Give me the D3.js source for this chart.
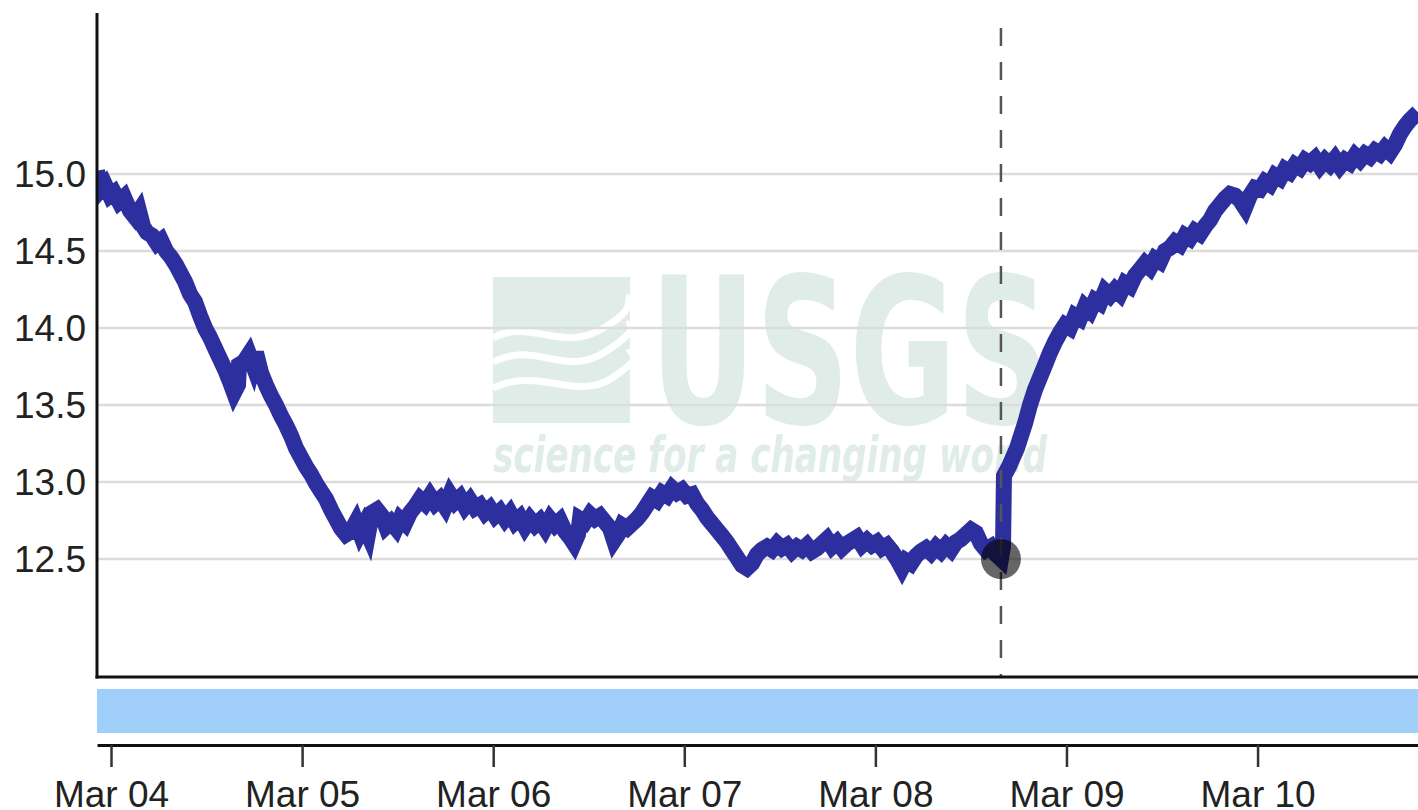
<!DOCTYPE html>
<html>
<head>
<meta charset="utf-8">
<script src="https://cdn.jsdelivr.net/npm/d3@7"></script>
<style>
  body { margin: 0; background: #fff; }
  svg { display: block; font-family: "Liberation Sans", Arial, Helvetica, sans-serif; }
</style>
</head>
<body>
<svg id="chart"></svg>
<script>
// hours after Mar 04 00:00 and gage height (ft)
const hours = [-1.76,-1.26,-0.75,-0.13,0.38,1.00,1.63,2.39,3.01,3.52,4.02,4.52,5.15,5.78,6.28,6.91,7.54,8.16,8.67,9.29,
  9.92,10.55,11.18,11.81,12.43,13.06,13.69,14.32,14.95,15.45,15.95,16.08,16.70,17.33,17.83,18.21,18.84,19.47,20.09,20.72,
  21.35,21.98,22.61,23.23,23.86,24.49,25.12,25.75,26.37,27.00,27.63,28.26,28.89,29.51,30.14,30.77,31.27,31.77,32.28,32.78,
  33.41,34.03,34.54,35.16,35.79,36.30,36.92,37.55,38.18,38.81,39.44,40.06,40.69,41.32,41.95,42.58,43.20,43.83,44.46,45.09,
  45.71,46.34,46.97,47.60,48.23,48.85,49.48,50.11,50.74,51.37,51.99,52.62,53.25,53.88,54.51,55.13,55.76,56.39,57.02,57.64,
  58.15,58.65,58.90,59.53,60.16,60.79,61.41,62.04,62.67,63.17,63.68,64.18,64.81,65.43,66.06,66.69,67.32,67.95,68.57,69.20,
  69.83,70.46,71.08,71.71,72.34,72.97,73.60,74.22,74.85,75.48,76.11,76.74,77.36,77.99,78.62,79.25,79.87,80.50,81.13,81.76,
  82.39,83.01,83.64,84.27,84.90,85.53,86.15,86.78,87.41,88.04,88.66,89.29,89.92,90.55,91.18,91.80,92.43,93.06,93.69,94.32,
  94.94,95.57,96.20,96.83,97.46,98.08,98.71,99.34,99.84,100.47,101.10,101.73,102.35,102.98,103.61,104.24,104.87,105.49,106.12,106.75,
  107.38,108.01,108.63,109.26,109.89,110.52,111.15,111.77,112.03,112.15,112.78,113.28,113.79,114.29,114.79,115.42,116.05,116.68,117.31,117.93,
  118.56,119.19,119.82,120.44,121.07,121.70,122.33,122.96,123.58,124.21,124.84,125.47,126.10,126.72,127.35,127.98,128.61,129.24,129.86,130.49,
  131.12,131.75,132.37,133.00,133.63,134.26,134.89,135.51,136.14,136.77,137.40,138.03,138.65,139.28,139.91,140.54,141.17,141.79,142.42,143.05,
  143.68,144.30,144.93,145.56,146.19,146.82,147.44,148.07,148.70,149.33,149.96,150.58,151.21,151.84,152.47,153.10,153.72,154.35,154.98,155.61,
  156.24,156.86,157.49,158.12,158.75,159.38,160.00,160.63,161.26,161.89,162.52,163.14,164.15];
const stage = [15.02,14.90,14.93,14.86,14.88,14.82,14.85,14.76,14.72,14.76,14.66,14.62,14.60,14.55,14.57,14.50,14.46,14.41,14.36,14.30,
  14.22,14.17,14.08,14.00,13.94,13.87,13.80,13.73,13.65,13.58,13.63,13.76,13.78,13.83,13.76,13.84,13.71,13.63,13.56,13.50,
  13.43,13.37,13.30,13.22,13.16,13.10,13.05,12.99,12.94,12.89,12.82,12.76,12.70,12.66,12.68,12.74,12.67,12.72,12.66,12.80,
  12.82,12.78,12.71,12.74,12.70,12.76,12.73,12.80,12.84,12.89,12.86,12.91,12.86,12.89,12.84,12.92,12.87,12.90,12.84,12.88,
  12.83,12.85,12.80,12.83,12.78,12.81,12.76,12.80,12.74,12.77,12.71,12.76,12.72,12.75,12.70,12.76,12.72,12.75,12.68,12.64,
  12.60,12.66,12.76,12.74,12.79,12.76,12.78,12.74,12.70,12.62,12.66,12.72,12.70,12.73,12.76,12.80,12.85,12.90,12.88,12.93,
  12.91,12.96,12.93,12.95,12.91,12.92,12.86,12.82,12.77,12.73,12.69,12.65,12.61,12.56,12.51,12.46,12.44,12.47,12.53,12.56,
  12.58,12.56,12.60,12.57,12.59,12.55,12.58,12.56,12.59,12.55,12.57,12.60,12.63,12.58,12.61,12.57,12.60,12.62,12.64,12.59,
  12.62,12.59,12.61,12.57,12.59,12.55,12.50,12.44,12.49,12.47,12.52,12.55,12.57,12.54,12.58,12.55,12.59,12.56,12.61,12.63,
  12.66,12.69,12.67,12.60,12.56,12.58,12.53,12.50,12.58,13.04,13.10,13.16,13.22,13.30,13.38,13.50,13.60,13.68,13.76,13.84,
  13.91,13.97,14.02,14.00,14.08,14.06,14.14,14.11,14.18,14.16,14.24,14.21,14.25,14.22,14.29,14.27,14.34,14.38,14.42,14.39,
  14.45,14.43,14.50,14.52,14.56,14.54,14.60,14.58,14.63,14.61,14.66,14.70,14.76,14.80,14.84,14.87,14.86,14.83,14.78,14.86,
  14.91,14.90,14.95,14.93,14.99,14.97,15.03,15.01,15.06,15.04,15.09,15.07,15.10,15.05,15.09,15.06,15.10,15.05,15.09,15.07,
  15.12,15.09,15.13,15.11,15.15,15.13,15.17,15.14,15.19,15.26,15.31,15.35,15.40];

const yTicks = [12.5, 13.0, 13.5, 14.0, 14.5, 15.0];
const markerHour = 111.77;   // last reading before the rise
const base = new Date(2018, 2, 4);
const data = hours.map((h, i) => ({ t: new Date(base.getTime() + h * 3600e3), v: stage[i] }));

const W = 1418, H = 810;
const plotL = 97, plotR = 1418, plotT = 15, plotB = 677;

const svg = d3.select('#chart').attr('width', W).attr('height', H);

const x = d3.scaleTime()
  .domain([new Date(base.getTime() - 1.76 * 3600e3), new Date(base.getTime() + 164.15 * 3600e3)])
  .range([plotL, plotR]);
const y = d3.scaleLinear().domain([11.734, 16.032]).range([plotB, plotT]);

svg.append('defs').append('clipPath').attr('id', 'plot')
  .append('rect').attr('x', plotL).attr('y', plotT).attr('width', plotR - plotL).attr('height', plotB - plotT);

// watermark
const wm = svg.append('g').attr('fill', '#dfece8');
wm.append('rect').attr('x', 493).attr('y', 277).attr('width', 137).attr('height', 146);
wm.append('g').attr('fill', 'none').attr('stroke', '#fff').attr('stroke-width', 7)
  .selectAll('path')
  .data([
    'M493,338 C530,318 560,352 600,330 S625,300 630,296',
    'M493,362 C535,340 565,378 605,352 S626,326 630,322',
    'M493,388 C540,366 575,402 612,378 S628,354 630,350'
  ])
  .join('path').attr('d', d => d);
wm.append('text')
  .attr('x', 650).attr('y', 423)
  .attr('textLength', 400).attr('lengthAdjust', 'spacingAndGlyphs')
  .style('font-family', '"Liberation Sans Narrow", "DejaVu Sans Condensed", sans-serif')
  .style('font-weight', 'bold').style('font-size', '203px')
  .text('USGS');
wm.append('text')
  .attr('x', 493).attr('y', 472)
  .attr('textLength', 554).attr('lengthAdjust', 'spacingAndGlyphs')
  .style('font-family', '"Liberation Sans Narrow", "DejaVu Sans Condensed", sans-serif')
  .style('font-style', 'italic').style('font-weight', 'bold').style('font-size', '50px')
  .text('science for a changing world');

// grid
svg.append('g').selectAll('line')
  .data(yTicks)
  .join('line')
  .attr('x1', plotL).attr('x2', plotR)
  .attr('y1', d => y(d)).attr('y2', d => y(d))
  .attr('stroke', '#dcdcdc').attr('stroke-width', 2.5);

// y labels
svg.append('g').selectAll('text')
  .data(yTicks)
  .join('text')
  .attr('x', 86).attr('y', d => y(d)).attr('dy', '0.36em')
  .attr('text-anchor', 'end')
  .attr('fill', '#222').style('font-size', '37px')
  .text(d => d3.format('.1f')(d));

// series
const line = d3.line().x(d => x(d.t)).y(d => y(d.v));
svg.append('path')
  .datum(data)
  .attr('clip-path', 'url(#plot)')
  .attr('d', line)
  .attr('fill', 'none')
  .attr('stroke', '#2e2f9f')
  .attr('stroke-width', 16)
  .attr('stroke-linejoin', 'miter');

// marker + dashed cursor
const m = data[hours.indexOf(markerHour)];
svg.append('line')
  .attr('x1', x(m.t)).attr('x2', x(m.t)).attr('y1', 28).attr('y2', plotB)
  .attr('stroke', '#555').attr('stroke-width', 2.5).attr('stroke-dasharray', '18,16');
svg.append('circle')
  .attr('cx', x(m.t)).attr('cy', y(m.v)).attr('r', 20)
  .attr('fill', '#000').attr('opacity', 0.6);

// plot frame
svg.append('line').attr('x1', plotL).attr('x2', plotL).attr('y1', plotT - 2).attr('y2', plotB + 1.5)
  .attr('stroke', '#111').attr('stroke-width', 3);
svg.append('line').attr('x1', plotL - 1.5).attr('x2', plotR).attr('y1', plotB).attr('y2', plotB)
  .attr('stroke', '#111').attr('stroke-width', 3);

// approval band
svg.append('rect')
  .attr('x', plotL).attr('y', 689).attr('width', plotR - plotL).attr('height', 44)
  .attr('fill', '#a0cffa');

// x axis
const xAxis = svg.append('g')
  .attr('transform', 'translate(0,745)')
  .call(d3.axisBottom(x).ticks(d3.timeDay.every(1)).tickFormat(d3.timeFormat('%b %d')).tickSize(22).tickSizeOuter(0).tickPadding(14));
xAxis.select('.domain').attr('stroke', '#111').attr('stroke-width', 3);
xAxis.selectAll('.tick line').attr('stroke', '#333').attr('stroke-width', 2.5);
xAxis.selectAll('.tick text').attr('fill', '#222').style('font-size', '37px')
  .style('font-family', '"Liberation Sans", Arial, sans-serif');
</script>
</body>
</html>
